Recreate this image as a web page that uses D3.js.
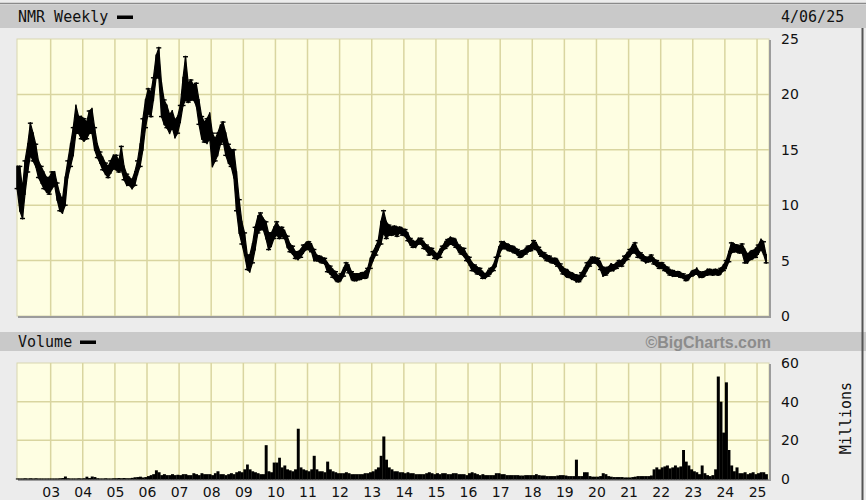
<!DOCTYPE html>
<html>
<head>
<meta charset="utf-8">
<script src="https://cdn.jsdelivr.net/npm/d3@7"></script>
<style>
  body { margin: 0; background: #ececec; }
</style>
</head>
<body>
<div class="bigchart"></div>
<script>
// monthly data, first month is Dec 2001
var firstMonth = new Date(2001, 11, 1);

// price high per month
var priceHigh = [
  13.5,
  13.5,11.5,14,15.5,17.4,16.5,15.5,14,13.5,13,12.5,12.5,        // 2002
  13,13,12,11,10.5,12.5,14,15.5,17,19,18,18,                   // 2003
  17.8,17.5,18.5,18.7,17,15.5,14.8,14.3,13.8,13.5,14,14.5,     // 2004
  14.5,14,15.3,13.5,12.8,12.5,12.3,13,14,15.5,17.8,19.5,       // 2005
  20.5,20.2,21.5,23.5,24.2,21,19.5,19,18.2,18.5,17.7,18,       // 2006
  19,21.5,23.4,21,21.3,20.8,21,19.5,18,17.5,17.8,18.3,         // 2007
  16.5,16,16.5,17.2,17.5,16.5,15.5,15,15,13,10.5,8.5,          // 2008
  7.5,5.5,5.5,6.5,8,9,9.3,8.8,8.5,7.5,7.5,8,                   // 2009
  8.5,8,8,7.7,7.2,6.5,6.3,5.8,5.8,6,6.4,6.6,                   // 2010
  6.7,6.5,6,5.5,5.4,5.3,5.2,4.8,4.5,4.2,4,3.6,                 // 2011
  3.8,4.3,4.8,4.6,4,3.8,3.8,3.8,3.9,4,4.3,5.2,                 // 2012
  5.8,6.3,6.8,8.5,9.5,8.5,8.2,8,8.1,8,8,7.9,                   // 2013
  7.8,7.5,7,6.8,6.7,7,7,6.7,6.4,6.2,6.1,5.8,                   // 2014
  5.6,6,6.3,6.7,6.9,7.1,7,6.9,6.4,6.2,6.1,5.6,                 // 2015
  5.3,4.8,4.6,4.4,4.3,4,3.8,4.1,4.3,4.6,5.3,6.2,               // 2016
  6.7,6.7,6.5,6.4,6.3,6.2,6,5.8,5.9,6.1,6.3,6.4,               // 2017
  6.8,6.6,6.2,5.9,5.7,5.5,5.4,5.2,5.2,5.1,4.7,4.4,             // 2018
  4.2,4.1,3.9,3.8,3.7,3.6,3.9,4.3,4.8,5.1,5.3,5.3,             // 2019
  5.2,4.9,4.4,4.3,4.4,4.7,4.6,4.8,5,5,5.4,5.7,                 // 2020
  6,6.4,6.6,6,5.7,5.5,5.3,5.3,5.5,5.2,5,4.8,                   // 2021
  4.8,4.6,4.4,4.2,4.1,4,4,3.9,3.8,3.6,3.7,4,                   // 2022
  4.1,4.3,4,3.9,4,4.2,4.2,4.1,4.2,4.1,4.3,4.6,                 // 2023
  5,5.8,6.6,6.5,6.4,6.3,6.5,6,5.6,5.8,5.9,6.1,                 // 2024
  6.4,6.9,6.7,5.5                                              // 2025
];

// price low per month
var priceLow = [
  11.5,
  9.5,8.8,11,13,14.5,14,13.5,12.5,12,11.5,11.2,11,
  11.5,11.8,10.5,9.5,9.3,10,12.5,13.5,14.5,16.5,16.5,16,
  15.8,16,16.5,16.5,15,14.3,13.8,13.2,12.8,12.5,12.9,13.3,
  13.2,13,13.2,12.3,11.8,11.8,11.5,11.8,12.8,13.5,15,17,
  18.3,18,19.5,21.5,21.5,18,17.3,17,16.5,17,16.1,16.5,
  17.5,19,19.5,19.3,19.5,19.5,19,17.3,16,15.7,15.6,16,
  13.5,14,14.5,15.5,15.8,14.5,13.8,13.5,12.5,9.5,7.5,6.5,
  5.5,4.2,4,4.8,6,7.5,7.8,7.8,7,6,6.3,7,
  7.3,7,7.2,7,6.2,5.8,5.6,5.2,5.1,5.3,5.7,6,
  6,5.8,5,5,4.9,4.8,4.7,4,3.8,3.5,3.2,3.1,
  3.2,3.6,4.2,3.9,3.3,3.2,3.2,3.3,3.4,3.4,3.5,4.3,
  5,5.5,6,6.5,7.5,7,7.3,7.3,7.4,7.2,7.5,7.3,
  7.2,6.8,6.4,6.2,6.2,6.5,6.5,6.1,5.9,5.5,5.6,5.2,
  5.1,5.3,5.8,6.1,6.3,6.5,6.4,6.2,5.8,5.6,5.4,5,
  4.6,4.1,4,3.8,3.7,3.4,3.4,3.6,3.8,4.1,4.5,5.4,
  6,6.1,6,5.9,5.8,5.7,5.5,5.3,5.4,5.6,5.8,5.9,
  6.1,6,5.6,5.4,5.2,5,4.9,4.8,4.7,4.5,4.1,3.8,
  3.6,3.5,3.4,3.3,3.1,3.1,3.3,3.6,4.1,4.5,4.8,4.8,
  4.6,4.2,3.6,3.7,3.9,4.1,4.1,4.3,4.5,4.5,4.8,5.1,
  5.4,5.7,5.7,5.3,5.2,5,4.8,4.9,5,4.7,4.5,4.3,
  4.3,4.1,3.9,3.7,3.6,3.6,3.6,3.5,3.4,3.2,3.3,3.6,
  3.7,3.8,3.5,3.5,3.6,3.7,3.8,3.7,3.8,3.7,3.8,4.1,
  4.3,4.9,5.7,5.8,5.8,5.7,5.7,4.8,4.8,5.1,5.2,5.3,
  5.6,6,5.6,4.8
];

// volume, millions
var volume = [
  0.3,
  0.3,0.3,0.4,0.3,0.4,0.3,0.4,0.3,0.3,0.3,0.3,0.3,
  0.3,0.3,0.3,0.4,0.5,1.3,0.4,0.3,0.3,0.3,0.4,0.3,
  0.4,1.2,0.5,1.3,1.0,0.4,0.3,0.3,0.4,0.3,0.3,0.4,
  0.4,0.5,0.4,0.5,0.4,0.4,0.6,0.9,1.0,1.2,0.8,1.0,
  1.5,2.0,2.5,4.5,3.5,2.0,2.5,2.0,2.0,2.5,2.0,2.2,
  2.0,2.5,2.5,2.0,2.0,3.0,2.5,2.0,3.0,2.5,2.5,2.5,
  2.0,3.0,4.0,2.5,2.5,2.0,2.5,3.0,2.5,3.5,4.0,3.5,
  5,7.5,5,4,3.5,3,2.5,2.5,17.5,4,3.5,8.5,
  8.5,11,6,7,5,4.5,4,5,26,6,5,4.5,
  4,5,12,5,4,4,3.5,9,5,4,3.5,3,
  3,3,3.5,3,2.5,2.5,2.5,2.5,2.5,3,3,3.5,
  4,5,6,12,22,10,6,5,4,4,3.5,3.5,
  3,3.5,3,3,2.5,2.5,2.5,2.5,3,3.5,3,2.5,
  3,2.5,3,3,2.5,2.5,3,3,2.5,2.5,2.5,2,
  3,3.5,3,2.5,2,2.5,2,2,2,2,3,3,
  2.5,2.5,2,2,2,2,2,1.8,1.8,2,2,2,
  2,2.5,2,1.8,1.8,1.5,1.5,1.5,1.5,1.8,2,2,
  1.8,1.5,1.5,1.5,10,1.5,1.5,3.5,3.5,1.5,1.2,1.2,
  1.2,1.5,3,2.5,1.5,1.2,1,1,1,1,0.8,0.8,
  0.8,1,1.2,1.5,1.5,1.5,1.5,1.5,1.8,5,6,5,
  6,6.5,7,5.5,6,7,6,6.5,15,9,7,5,
  4,3.5,2.5,7,3,2,1.5,2,5,53,40,24,
  50,15,7,4,6,3,3,3.5,2.5,3,3.5,2.5,
  3,3.5,3.5,2.5
];

var yearLabels = ["03","04","05","06","07","08","09","10","11","12","13","14",
                  "15","16","17","18","19","20","21","22","23","24","25"];
var priceTicks = [0, 5, 10, 15, 20, 25];
var volumeTicks = [0, 20, 40, 60];

var W = 866, H = 500;
var left = 17, right = 769;
var pTop = 39, pBottom = 316;
var vTop = 363, vBottom = 479;

var svg = d3.select(".bigchart").append("svg")
    .attr("width", W).attr("height", H)
    .style("display", "block")
    .style("font-family", "'DejaVu Sans', sans-serif");

var months = priceHigh.map(function(d, i) { return d3.timeMonth.offset(firstMonth, i); });
var years = yearLabels.map(function(y) { return new Date(2000 + +y, 0, 1); });

var x = d3.scaleTime()
    .domain([new Date(2001, 11, 14), new Date(2025, 4, 17)])
    .range([left, right]);
var yPrice = d3.scaleLinear().domain([0, 25]).range([pBottom, pTop]);
var yVol = d3.scaleLinear().domain([0, 60]).range([vBottom, vTop]);

// background pieces
svg.append("rect").attr("x", 0).attr("y", 0).attr("width", W).attr("height", H).attr("fill", "#ececec");
svg.append("line").attr("x1", 0).attr("x2", W).attr("y1", 3.5).attr("y2", 3.5)
    .attr("stroke", "#8a8a8a").attr("stroke-width", 1.5);
svg.append("rect").attr("x", 0).attr("y", 5).attr("width", W).attr("height", 23).attr("fill", "#c9c9c9");
svg.append("rect").attr("x", 0).attr("y", 332).attr("width", W).attr("height", 19).attr("fill", "#c9c9c9");
svg.append("line").attr("x1", 862.5).attr("x2", 862.5).attr("y1", 28).attr("y2", H)
    .attr("stroke", "#555").attr("stroke-width", 2);

function panel(top, bottom, yScale, gridVals) {
  var g = svg.append("g");
  g.append("rect")
    .attr("x", left).attr("y", top)
    .attr("width", right - left).attr("height", bottom - top)
    .attr("fill", "#fefee2").attr("stroke", "#d8d6b0");
  g.selectAll(".vgrid").data(years).enter().append("line")
    .attr("x1", function(d) { return x(d); }).attr("x2", function(d) { return x(d); })
    .attr("y1", top).attr("y2", bottom)
    .attr("stroke", "#d9d5a0").attr("stroke-width", 1.5);
  g.selectAll(".hgrid").data(gridVals).enter().append("line")
    .attr("x1", left).attr("x2", right)
    .attr("y1", function(d) { return yScale(d); }).attr("y2", function(d) { return yScale(d); })
    .attr("stroke", "#d9d5a0").attr("stroke-width", 1.5);
  // shadow on right and bottom
  g.append("path")
    .attr("d", "M" + (right + 1) + "," + (top + 1) + "V" + (bottom + 1) + "H" + (left + 1))
    .attr("fill", "none").attr("stroke", "#9c9c9c").attr("stroke-width", 2);
  return g;
}

panel(pTop, pBottom, yPrice, [5, 10, 15, 20]);
panel(vTop, vBottom, yVol, [20, 40]);

// price band
var mid = function(d, i) { return x(d3.timeDay.offset(months[i], 14)); };
var band = d3.area()
    .x(function(d, i) { return mid(d, i); })
    .y0(function(d, i) { return yPrice(priceLow[i]); })
    .y1(function(d, i) { return yPrice(priceHigh[i]); });
svg.append("path")
    .datum(priceHigh)
    .attr("d", band)
    .attr("fill", "#000")
    .attr("stroke", "#000")
    .attr("stroke-width", 1.2)
    .attr("stroke-linejoin", "round");

// bar-chart style ticks on each month, gives the ragged look
var bars = svg.append("g").attr("stroke", "#000");
bars.selectAll(".hl").data(priceHigh).enter().append("line")
    .attr("x1", mid).attr("x2", mid)
    .attr("y1", function(d) { return yPrice(d) - 1; })
    .attr("y2", function(d, i) { return yPrice(priceLow[i]) + 1; })
    .attr("stroke-width", 1.4);
bars.selectAll(".tk").data(priceHigh).enter().append("line")
    .attr("x1", function(d, i) { return mid(d, i) - 2.5; })
    .attr("x2", function(d, i) { return mid(d, i) + 2.5; })
    .attr("y1", function(d, i) { return yPrice(i % 2 ? d : priceLow[i]); })
    .attr("y2", function(d, i) { return yPrice(i % 2 ? d : priceLow[i]); })
    .attr("stroke-width", 1.4);

// volume bars
svg.selectAll(".vol").data(volume).enter().append("rect")
    .attr("x", function(d, i) { return x(months[i]); })
    .attr("width", function(d, i) { return x(d3.timeMonth.offset(months[i], 1)) - x(months[i]) + 0.3; })
    .attr("y", function(d) { return yVol(d); })
    .attr("height", function(d) { return vBottom - yVol(d) + 0.5; })
    .attr("fill", "#000");

// axes
function styleAxis(g) {
  g.select(".domain").remove();
  g.selectAll(".tick line").remove();
  g.selectAll("text").attr("fill", "#111").style("font-size", "14px")
    .style("font-family", "'DejaVu Sans', sans-serif");
}

svg.append("g").attr("transform", "translate(" + right + ",0)")
    .call(d3.axisRight(yPrice).tickValues(priceTicks).tickSize(0).tickPadding(12))
    .call(styleAxis);
svg.append("g").attr("transform", "translate(" + right + ",0)")
    .call(d3.axisRight(yVol).tickValues(volumeTicks).tickSize(0).tickPadding(12))
    .call(styleAxis);
svg.append("g").attr("transform", "translate(0," + vBottom + ")")
    .call(d3.axisBottom(x).tickValues(years).tickFormat(d3.timeFormat("%y")).tickSize(0).tickPadding(8))
    .call(styleAxis);

// header texts
var mono = "'DejaVu Sans Mono', monospace";
svg.append("text").attr("x", 18).attr("y", 22).text("NMR Weekly")
    .style("font-family", mono).style("font-size", "15px").attr("fill", "#111");
svg.append("rect").attr("x", 117).attr("y", 15.5).attr("width", 16).attr("height", 3.5).attr("fill", "#000");
svg.append("text").attr("x", 781).attr("y", 22).text("4/06/25")
    .style("font-family", mono).style("font-size", "15px").attr("fill", "#111");

svg.append("text").attr("x", 18).attr("y", 347).text("Volume")
    .style("font-family", mono).style("font-size", "15px").attr("fill", "#111");
svg.append("rect").attr("x", 80).attr("y", 340.5).attr("width", 16).attr("height", 3.5).attr("fill", "#000");
svg.append("text").attr("x", 771).attr("y", 348).attr("text-anchor", "end").text("\u00a9BigCharts.com")
    .style("font-family", "'Liberation Sans', Arial, sans-serif").style("font-weight", "bold")
    .style("font-size", "16px").attr("fill", "#8c8c8c");

svg.append("text")
    .attr("transform", "translate(851,418) rotate(-90)")
    .attr("text-anchor", "middle")
    .text("Millions")
    .style("font-family", mono).style("font-size", "15px").attr("fill", "#111");
</script>
</body>
</html>
